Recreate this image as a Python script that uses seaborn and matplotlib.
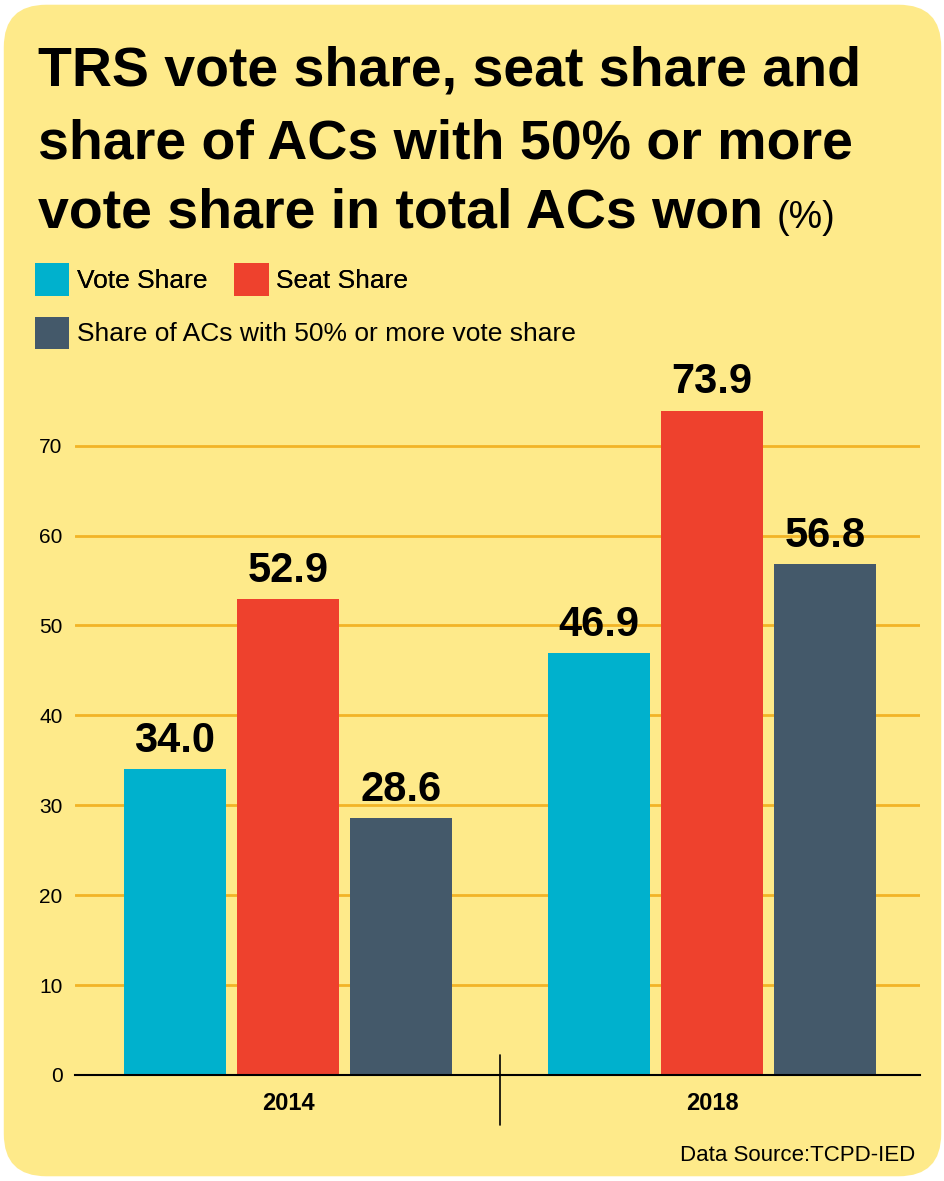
import matplotlib
matplotlib.use("Agg")
import matplotlib.pyplot as plt
import pandas as pd
import seaborn as sns
from matplotlib.patches import FancyBboxPatch, Patch

# chart data
years = ['2014', '2018']
series = ['Vote Share', 'Seat Share', 'Share of ACs with 50% or more vote share']
vote_share = [34.0, 46.9]
seat_share = [52.9, 73.9]
ac_share = [28.6, 56.8]
y_ticks = [0, 10, 20, 30, 40, 50, 60, 70]
title_lines = ['TRS vote share, seat share and',
               'share of ACs with 50% or more',
               'vote share in total ACs won']

colors = ['#00B1CD', '#EE412D', '#44596A']
bg_yellow = '#FEEA8A'
grid_gold = '#F2B426'

sns.set_style('white')
plt.rcParams['font.family'] = ['Liberation Sans Narrow', 'Liberation Sans', 'DejaVu Sans']
plt.rcParams['text.color'] = 'black'
plt.rcParams['xtick.color'] = 'black'
plt.rcParams['ytick.color'] = 'black'

df = pd.DataFrame({
    'year': years * 3,
    'series': [series[0]] * 2 + [series[1]] * 2 + [series[2]] * 2,
    'value': vote_share + seat_share + ac_share,
})

fig = plt.figure(figsize=(9.45, 11.81), dpi=100)
fig.patch.set_facecolor('white')
panel = FancyBboxPatch((0.004, 0.004), 0.992, 0.992,
                       boxstyle='round,pad=0,rounding_size=0.045',
                       transform=fig.transFigure, facecolor=bg_yellow,
                       edgecolor='none', zorder=-5, mutation_aspect=945 / 1181)
fig.patches.append(panel)

ax = fig.add_axes([0.0794, 0.0898, 0.8941, 0.5937])
ax.set_zorder(2)
ax.set_facecolor('none')
sns.barplot(data=df, x='year', y='value', hue='series', hue_order=series,
            palette=colors, width=0.8, gap=0.1, legend=False, ax=ax,
            saturation=1, linewidth=0)

for cont in ax.containers:
    ax.bar_label(cont, fmt='%.1f', fontsize=30, fontweight='bold',
                 padding=6, color='black')

ax.set_ylim(0, 78)
ax.set_xlim(-0.502, 1.49)
ax.set_yticks(y_ticks)
ax.set_yticklabels([str(t) for t in y_ticks], fontsize=15)
ax.tick_params(axis='y', length=0, pad=9)
ax.tick_params(axis='x', length=0, pad=12, labelsize=17)
for lbl in ax.get_xticklabels():
    lbl.set_fontweight('bold')
ax.set_xlabel('')
ax.set_ylabel('')
ax.grid(axis='y', color=grid_gold, linewidth=2)
ax.grid(axis='x', visible=False)
ax.set_axisbelow(True)
for s in ['left', 'right', 'top']:
    ax.spines[s].set_visible(False)
ax.spines['bottom'].set_linewidth(1.5)
ax.spines['bottom'].set_color('black')
# divider between the year groups
ax.plot([0.5, 0.5], [2.2, -5.6], color='black', linewidth=1.2, clip_on=False)

# title, one line at a time
baselines = [0.9272, 0.8662, 0.807]
for line, yb in zip(title_lines, baselines):
    t = fig.text(0.04, yb, line, fontsize=40, fontweight='bold',
                 va='baseline', ha='left')
renderer = fig.canvas.get_renderer()
bb = t.get_window_extent(renderer)
fig.text((bb.x1 + 14) / fig.bbox.width, baselines[-1], '(%)', fontsize=27,
         va='baseline', ha='left')

# legend
handles = [Patch(facecolor=c, edgecolor='none') for c in colors]
leg1 = fig.legend(handles[:2], series[:2], ncol=2, loc='upper left',
                  bbox_to_anchor=(0.012, 0.797), frameon=False, fontsize=19,
                  handlelength=1.3, handleheight=1.5, handletextpad=0.3,
                  columnspacing=1.0)
fig.legend(handles[2:], series[2:], loc='upper left',
           bbox_to_anchor=(0.012, 0.752), frameon=False, fontsize=19,
           handlelength=1.3, handleheight=1.5, handletextpad=0.3)
fig.add_artist(leg1)

fig.text(0.968, 0.017, 'Data Source:TCPD-IED', fontsize=16, ha='right', va='baseline')

fig.savefig('out.png', dpi=100, facecolor='white')
